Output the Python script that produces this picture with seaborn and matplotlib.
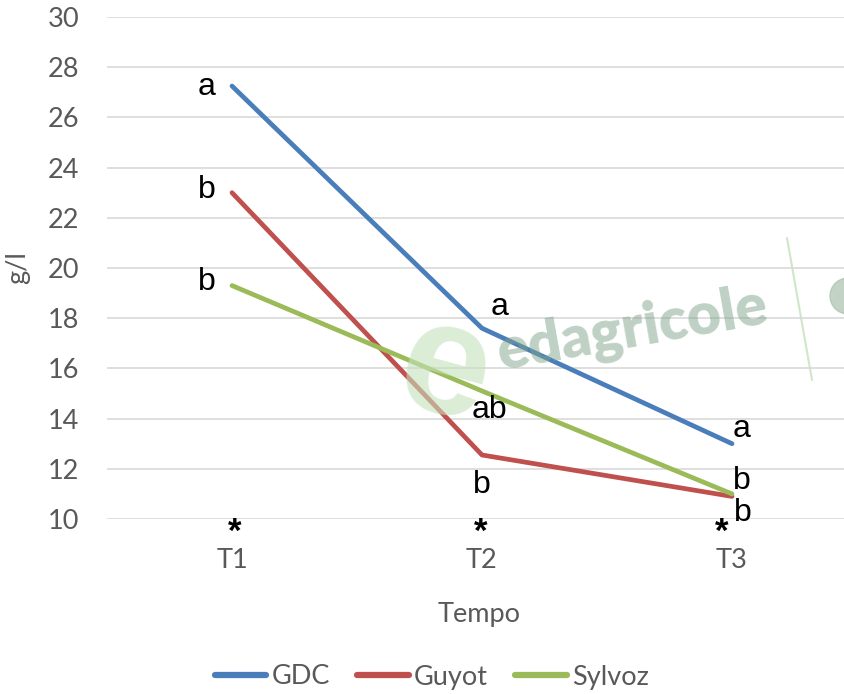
import matplotlib
matplotlib.use("Agg")
import matplotlib.pyplot as plt
import seaborn as sns
import pandas as pd
from matplotlib.lines import Line2D
from matplotlib.patches import Ellipse

# ---- data ----
times = ["T1", "T2", "T3"]
gdc = [27.25, 17.6, 13.0]
guyot = [23.0, 12.55, 10.9]
sylvoz = [19.3, 15.1, 11.0]
series_names = ["GDC", "Guyot", "Sylvoz"]
colors = ["#4a7ebb", "#c0504d", "#9bbb59"]

# significance letters per time point
letters_t1 = ["a", "b", "b"]
letters_t2 = ["a", "ab", "b"]
letters_t3 = ["a", "b", "b"]

df = pd.DataFrame({
    "Tempo": list(range(3)) * 3,
    "val": gdc + guyot + sylvoz,
    "serie": [s for s in series_names for _ in range(3)],
})

sns.set_theme(style="white")
plt.rcParams["font.family"] = ["Lato", "DejaVu Sans"]

W, H = 845, 694
fig = plt.figure(figsize=(W / 100, H / 100), dpi=100)
ax = fig.add_axes([107 / W, (H - 519) / H, 750 / W, 502 / H])

# watermark (behind)
fig.text(445 / W, 1 - 372 / H, "e", fontsize=115, fontweight="bold", color="#c4e2bb",
         alpha=0.6, rotation=-15, ha="center", va="center", family="Liberation Sans", zorder=0)
fig.text(633 / W, 1 - 330 / H, "edagricole", fontsize=42, fontweight="heavy", color="#7fa48a",
         alpha=0.5, rotation=10, ha="center", va="center", family="Lato", zorder=0)
fig.add_artist(Line2D([787 / W, 812 / W], [1 - 238 / H, 1 - 380 / H], color="#c5e0bb",
                      lw=1.5, alpha=0.8, zorder=0))
fig.add_artist(Ellipse((848 / W, 1 - 296 / H), 36 / W, 36 / H, color="#9bb8a3", alpha=0.6, zorder=0))

ax.patch.set_alpha(0)
sns.lineplot(data=df, x="Tempo", y="val", hue="serie", palette=colors, ax=ax,
             linewidth=3.4, legend=False, solid_capstyle="round", zorder=3)

ax.set_xlim(-0.5, 2.5)
ax.set_ylim(10, 30)
ax.set_yticks(range(10, 31, 2))
ax.set_xticks(range(3))
ax.set_xticklabels(times)
ax.grid(axis="y", color="#d9d9d9", linewidth=1.2)
ax.grid(axis="x", visible=False)
for s in ax.spines.values():
    s.set_visible(False)
ax.tick_params(axis="both", length=0, labelsize=19.5, labelcolor="#595959")
ax.tick_params(axis="x", pad=21)
ax.tick_params(axis="y", pad=20)
ax.set_xlabel("Tempo", fontsize=19.5, color="#595959")
ax.set_ylabel("g/l", fontsize=19.5, color="#595959")
ax.xaxis.set_label_coords(0.496, -0.165)
ax.yaxis.set_label_coords(-0.103, 0.5)

# letters
tk = dict(fontsize=23, color="black", family=["Liberation Sans", "DejaVu Sans"],
          ha="center", va="center", clip_on=False, zorder=5)
t1_pos = [(-0.1, 27.2), (-0.1, 23.1), (-0.1, 19.45)]
t2_pos = [(1.07, 18.45), (1.03, 14.35), (1.0, 11.35)]
t3_pos = [(2.04, 13.6), (2.04, 11.5), (2.045, 10.25)]
for lab, (x, y) in zip(letters_t1, t1_pos):
    ax.text(x, y, lab, **tk)
for lab, (x, y) in zip(letters_t2, t2_pos):
    ax.text(x, y, lab, **tk)
for lab, (x, y) in zip(letters_t3, t3_pos):
    ax.text(x, y, lab, **tk)
ak = dict(tk)
ak["fontsize"] = 25
ak["fontweight"] = "bold"
for x in [0.01, 0.995, 1.96]:
    ax.text(x, 9.47, "*", **ak)

handles = [Line2D([0], [0], color=c, lw=4.5, solid_capstyle="round") for c in colors]
leg = fig.legend(handles, series_names, loc="center", bbox_to_anchor=(432 / W, 1 - 677 / H),
                 ncol=3, frameon=False, fontsize=19.5, handlelength=1.9, handletextpad=0.2,
                 columnspacing=1.0)
for t in leg.get_texts():
    t.set_color("#595959")

fig.savefig("out.png", dpi=100)
